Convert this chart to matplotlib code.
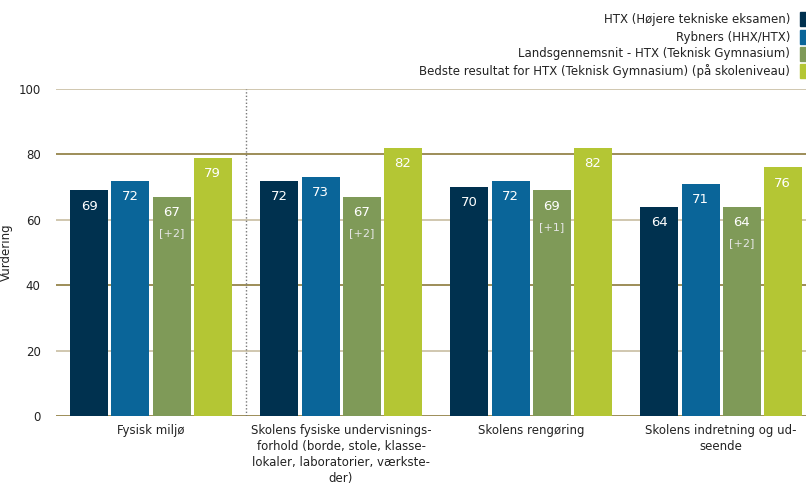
import numpy as np
import matplotlib.pyplot as plt
from matplotlib.patches import Rectangle

# ── data ────────────────────────────────────────────────
categories = [
    "Fysisk miljø",
    "Skolens fysiske undervisnings-\nforhold (borde, stole, klasse-\nlokaler, laboratorier, værkste-\nder)",
    "Skolens rengøring",
    "Skolens indretning og ud-\nseende",
]
series_names = [
    "HTX (Højere tekniske eksamen)",
    "Rybners (HHX/HTX)",
    "Landsgennemsnit - HTX (Teknisk Gymnasium)",
    "Bedste resultat for HTX (Teknisk Gymnasium) (på skoleniveau)",
]
htx      = [69, 72, 70, 64]
rybners  = [72, 73, 72, 71]
lands    = [67, 67, 69, 64]
bedste   = [79, 82, 82, 76]
lands_diff = ["[+2]", "[+2]", "[+1]", "[+2]"]

colors = ["#00314f", "#0a6599", "#7f9a58", "#b4c634"]
series = [htx, rybners, lands, bedste]

plt.rcParams['font.family'] = ['DejaVu Sans']

fig = plt.figure(figsize=(8.06, 4.84), dpi=100)
ax = fig.add_axes([56 / 806, 1 - 416 / 484, 750 / 806, 327 / 484])

x = np.arange(len(categories))
step = 0.216
width = 0.2

# gridlines (alternating colours as in reference)
for yv in [0, 20, 40, 60, 80, 100]:
    c = "#8c7a3c" if yv in (0, 40, 80) else "#c8bea2"
    ax.axhline(yv, color=c, lw=1.2, zorder=1)

for i, (vals, col) in enumerate(zip(series, colors)):
    pos = x + (i - 1.5) * step
    ax.bar(pos, vals, width=width, color=col, zorder=2)
    for p, v in zip(pos, vals):
        ax.text(p, v - 2.8, str(v), ha="center", va="top", color="white",
                fontsize=9.5, zorder=3)
    if i == 2:
        for p, v, d in zip(pos, vals, lands_diff):
            ax.text(p, v - 9.6, d, ha="center", va="top", color="#e6e6e6",
                    fontsize=8, zorder=3)

# dotted separator after first category
ax.axvline(0.5, color="#777777", lw=1, ls=(0, (1, 1.5)), zorder=1)

ax.set_xlim(-0.5, 3.447)
ax.set_ylim(0, 100)
ax.set_yticks([0, 20, 40, 60, 80, 100])
ax.set_xticks(x)
ax.set_xticklabels(categories, fontsize=8.5, color="#222222", linespacing=1.3)
ax.tick_params(axis="x", length=0, pad=6)
ax.tick_params(axis="y", length=0, pad=11, labelsize=8.5, labelcolor="#222222")
for s in ax.spines.values():
    s.set_visible(False)
ax.set_ylabel("Vurdering", fontsize=8.5, color="#222222")
ax.yaxis.set_label_coords(-0.057, 0.5)

# legend at top right, right-aligned text with coloured squares
ys = [19, 37, 54, 71]
for name, col, yy in zip(series_names, colors, ys):
    fig.text(790 / 806, 1 - yy / 484, name, ha="right", va="center",
             fontsize=8.5, color="#222222")
    fig.patches.append(Rectangle((800 / 806, 1 - (yy + 7) / 484), 6 / 806, 14 / 484,
                                 transform=fig.transFigure, color=col, figure=fig))

fig.savefig("out.png", dpi=100)
